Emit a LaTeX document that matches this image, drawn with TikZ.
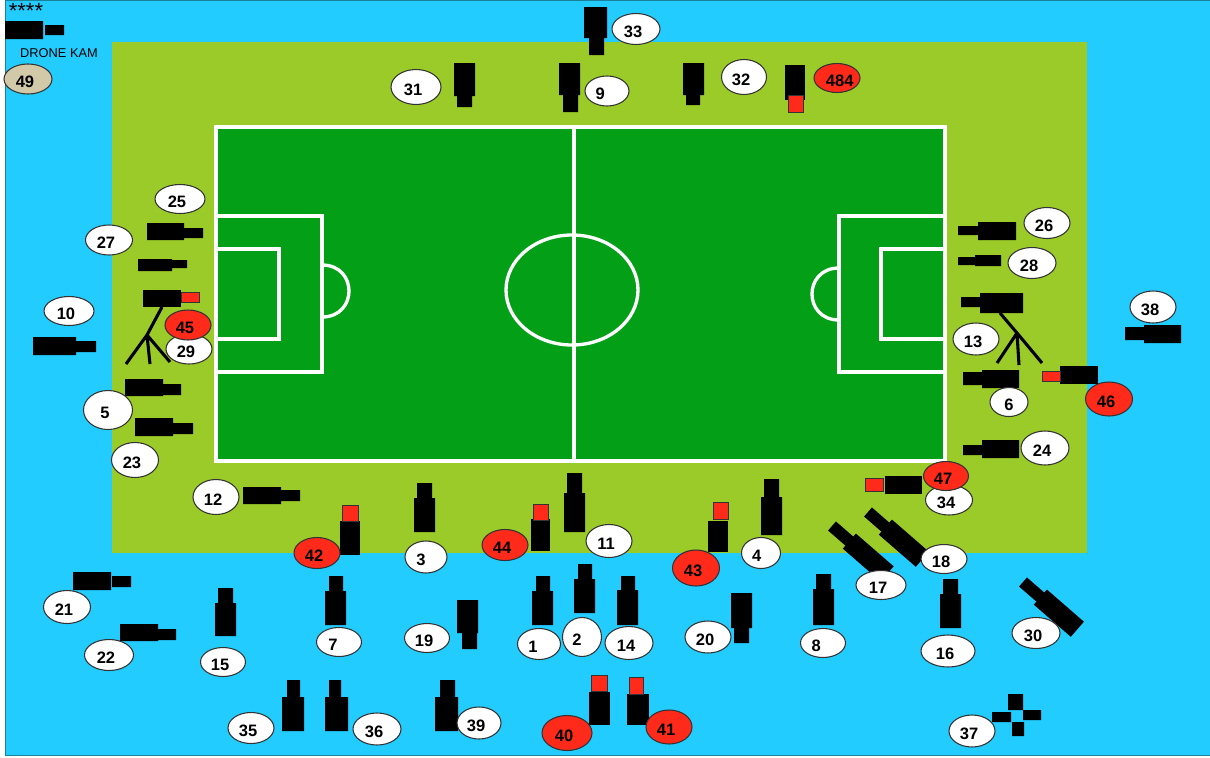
\documentclass[tikz,border=0pt]{standalone}
\usepackage{xcolor}
\usepackage{fontspec}
\setmainfont{Liberation Sans}
\usepackage{tikz}
\usetikzlibrary{shapes.geometric}
\definecolor{SkyBlue}{HTML}{22CCFF}
\definecolor{EdgeBlue}{HTML}{1B7F9E}
\definecolor{LawnGreen}{HTML}{9BCB28}
\definecolor{PitchGreen}{HTML}{03A017}
\definecolor{TagRed}{HTML}{FF2A1A}
\definecolor{TagTan}{HTML}{D2C9A9}
\definecolor{TagEdge}{HTML}{333333}

\begin{document}
\begin{tikzpicture}[x=0.75pt,y=-0.75pt,
          every node/.style={font=\bfseries\fontsize{12.4}{14}\selectfont},
          lean/.style={execute at end node={\hspace*{#1}}},
          num/.style 2 args={ellipse,draw=TagEdge,fill=white,line width=0.8pt,inner sep=0pt,
            minimum width=#1*0.75pt,minimum height=#2*0.75pt,text height=13.4pt,text depth=0pt,lean=4.5pt},
          hot/.style={fill=TagRed},
          lamp/.style={fill=TagRed,draw=TagEdge,line width=0.6pt},
          chalk/.style={draw=white,line width=2.5pt},
          tripod/.style={draw=black,line width=2.3pt}]
        \useasboundingbox (0,0) rectangle (1210,757);

        % ground
        \draw[EdgeBlue,fill=SkyBlue,line width=0.8pt] (5.5,0.5) rectangle (1210.5,755.5);
        \fill[LawnGreen] (112,42) rectangle (1087,553);
        \fill[PitchGreen] (216,127) rectangle (945,461);

        % pitch lines
        \draw[chalk] (216,127) rectangle (945,461);
        \draw[chalk] (574,127) -- (574,461);
        \draw[chalk] (572,290) ellipse (66 and 55);
        \draw[chalk] (216,216) rectangle (322,372);
        \draw[chalk] (216,249) rectangle (279,339);
        \draw[chalk] (322,265) .. controls (358,265) and (358,317) .. (322,317);
        \draw[chalk] (839,216) rectangle (945,372);
        \draw[chalk] (881,249) rectangle (945,339);
        \draw[chalk] (839,268) .. controls (803,268) and (803,320) .. (839,320);

        % cameras, left side
        \fill (5,21) rectangle (43,39) (45,25) rectangle (64,35);
        \fill (147,223) rectangle (184,240) (184,228) rectangle (203,238);
        \fill (138,259) rectangle (172,271) (172,260) rectangle (187,268);
        \fill (143,290) rectangle (181,307);
        \draw[lamp] (181,292) rectangle (199,302);
        \draw[tripod] (162,307) -- (147,335) -- (126,364) (147,335) -- (150,364) (147,335) -- (170,362);
        \fill (33,337) rectangle (76,355) (76,341) rectangle (96,352);
        \fill (125,379) rectangle (163,396) (163,384) rectangle (181,395);
        \fill (135,418) rectangle (173,436) (173,423) rectangle (193,434);
        \fill (243,487) rectangle (281,504) (281,490) rectangle (300,501);

        % cameras, right side
        \fill (978,222) rectangle (1016,240) (958,226) rectangle (978,235);
        \fill (975,255) rectangle (1001,266) (958,257) rectangle (975,265);
        \fill (980,293) rectangle (1023,313) (961,297) rectangle (980,307);
        \draw[tripod] (1000,313) -- (1017,333) -- (1042,363) (1017,333) -- (997,363) (1017,333) -- (1019,365);
        \fill (982,370) rectangle (1019,388) (963,372) rectangle (982,385);
        \fill (1060,366) rectangle (1098,384);
        \draw[lamp] (1042,371) rectangle (1060,381);
        \fill (1144,325) rectangle (1181,343) (1125,327) rectangle (1144,340);
        \fill (982,440) rectangle (1019,458) (963,445) rectangle (982,455);
        \fill (885,476) rectangle (922,494);
        \draw[lamp] (865,478) rectangle (883,491);

        % cameras, top
        \fill (584,7) rectangle (607,38) (589,38) rectangle (604,55);
        \fill (454,63) rectangle (475,96) (457,96) rectangle (472,107);
        \fill (559,63) rectangle (580,95) (563,95) rectangle (578,112);
        \fill (683,63) rectangle (704,95) (686,95) rectangle (700,105);
        \fill (785,65) rectangle (805,100);
        \draw[lamp] (788,95) rectangle (803,112);

        % cameras, bottom of the lawn
        \fill (340,521) rectangle (360,555);
        \draw[lamp] (342,505) rectangle (358,521);
        \fill (414,498) rectangle (435,532) (417,483) rectangle (432,498);
        \fill (531,519) rectangle (550,551);
        \draw[lamp] (533,504) rectangle (548,520);
        \fill (564,493) rectangle (585,532) (567,473) rectangle (582,493);
        \fill (708,521) rectangle (728,552);
        \draw[lamp] (713,502) rectangle (728,519);
        \fill (761,497) rectangle (782,535) (764,479) rectangle (779,497);

        % cameras, stands
        \fill (73,572) rectangle (111,590) (112,576) rectangle (131,587);
        \fill (120,624) rectangle (158,641) (158,629) rectangle (176,640);
        \fill (215,603) rectangle (236,636) (218,588) rectangle (233,603);
        \fill (325,591) rectangle (346,625) (329,576) rectangle (343,591);
        \fill (457,600) rectangle (478,633) (462,633) rectangle (477,649);
        \fill (532,591) rectangle (553,625) (536,576) rectangle (550,591);
        \fill (574,579) rectangle (595,613) (578,564) rectangle (592,579);
        \fill (617,590) rectangle (638,625) (621,576) rectangle (635,590);
        \fill (731,593) rectangle (752,628) (734,628) rectangle (749,643);
        \fill (813,589) rectangle (834,625) (816,574) rectangle (831,589);
        \fill (940,594) rectangle (961,628) (943,579) rectangle (958,594);
        \fill (282,697) rectangle (304,731) (287,680) rectangle (300,697);
        \fill (325,697) rectangle (348,731) (329,680) rectangle (341,697);
        \fill (435,697) rectangle (458,731) (440,680) rectangle (455,697);
        \fill (589,692) rectangle (610,725);
        \draw[lamp] (591,675) rectangle (607,691);
        \fill (627,694) rectangle (649,725);
        \draw[lamp] (629,677) rectangle (643,694);

        % tilted cameras
        \begin{scope}[shift={(832,526)},rotate=-41]
          \fill (0,-6) rectangle (24,6) (23,-10) rectangle (73,10);
        \end{scope}
        \begin{scope}[shift={(868,512)},rotate=-41]
          \fill (0,-6) rectangle (24,6) (23,-10) rectangle (72,10);
        \end{scope}
        \begin{scope}[shift={(1023,582)},rotate=-41]
          \fill (0,-6) rectangle (24,6) (23,-10) rectangle (72,10);
        \end{scope}

        % drone
        \fill (1008,694) rectangle (1023,710) (992,712) rectangle (1011,722);
        \fill (1023,710) rectangle (1041,720) (1012,722) rectangle (1024,736);

        % texts
        \node[font=\fontsize{16.5}{17}\selectfont] (stars) at (26,11) {****};
        \node[font=\fontsize{9.6}{12}\selectfont] (drone) at (59,53) {DRONE KAM};

        % number tags
        \node[num={48}{30},fill=TagTan] (n49) at (28,79) {49};
        \node[num={50}{29}] (n25) at (180,199) {25};
        \node[num={47}{30}] (n27) at (109,240) {27};
        \node[num={50}{29}] (n10) at (69,311) {10};
        \node[num={46}{30}] (n29) at (189,349) {29};
        \node[num={46}{30},hot] (n45) at (188,325) {45};
        \node[num={49}{39}] (n5) at (108,410) {5};
        \node[num={47}{35}] (n23) at (135,460) {23};
        \node[num={46}{31}] (n26) at (1047,223) {26};
        \node[num={48}{31}] (n28) at (1032,263) {28};
        \node[num={46}{32}] (n13) at (976,339) {13};
        \node[num={46}{32}] (n38) at (1153,307) {38};
        \node[num={47}{34},hot] (n46) at (1109,399) {46};
        \node[num={38}{29},lean=-4.5pt] (n6) at (1009,402) {6};
        \node[num={48}{34}] (n24) at (1045,448) {24};
        \node[num={47}{30}] (n34) at (949,500) {34};
        \node[num={45}{29},hot] (n47) at (946,476) {47};
        \node[num={46}{29}] (n18) at (944,559) {18};
        \node[num={50}{29}] (n17) at (881,585) {17};
        \node[num={54}{32}] (n16) at (948,651) {16};
        \node[num={48}{31}] (n30) at (1036,633) {30};
        \node[num={46}{32}] (n37) at (972,731) {37};
        \node[num={48}{31}] (n33) at (636,29) {33};
        \node[num={50}{35}] (n31) at (416,87) {31};
        \node[num={44}{30},lean=5.5pt] (n9) at (607,91) {9};
        \node[num={45}{35}] (n32) at (744,77) {32};
        \node[num={46}{29},hot,lean=-8.5pt] (n484) at (837,78) {484};
        \node[num={46}{35}] (n12) at (216,497) {12};
        \node[num={46}{31},hot] (n42) at (317,553) {42};
        \node[num={42}{32},lean=3pt] (n3) at (426,557) {3};
        \node[num={46}{31},hot] (n44) at (505,545) {44};
        \node[num={46}{33}] (n11) at (609,541) {11};
        \node[num={47}{36},hot] (n43) at (696,568) {43};
        \node[num={39}{31},lean=2pt] (n4) at (761,553) {4};
        \node[num={47}{33}] (n21) at (67,607) {21};
        \node[num={49}{31}] (n22) at (109,655) {22};
        \node[num={45}{29}] (n15) at (223,662) {15};
        \node[num={45}{29},lean=4.5pt] (n7) at (339,642) {7};
        \node[num={45}{29}] (n19) at (427,638) {19};
        \node[num={43}{31},lean=4.5pt] (n1) at (539,644) {1};
        \node[num={39}{39},lean=3pt] (n2) at (582,637) {2};
        \node[num={48}{33}] (n14) at (629,643) {14};
        \node[num={46}{32}] (n20) at (708,637) {20};
        \node[num={45}{29},lean=5.5pt] (n8) at (823,643) {8};
        \node[num={46}{31}] (n35) at (251,728) {35};
        \node[num={48}{32}] (n36) at (377,729) {36};
        \node[num={44}{32}] (n39) at (479,723) {39};
        \node[num={50}{35},hot] (n40) at (567,733) {40};
        \node[num={46}{34},hot] (n41) at (669,727) {41};
      \end{tikzpicture}
\end{document}
